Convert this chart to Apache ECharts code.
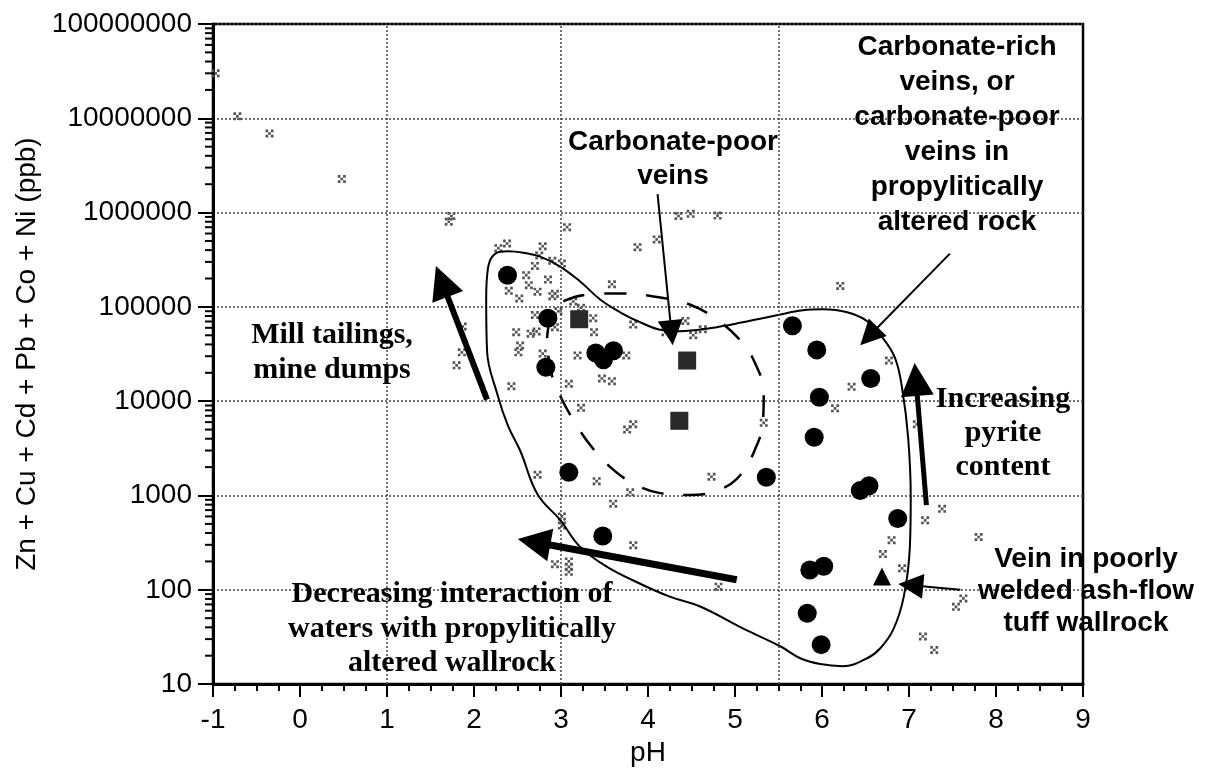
<!DOCTYPE html>
<html>
<head>
<meta charset="utf-8">
<script src="https://cdn.jsdelivr.net/npm/echarts/dist/echarts.min.js"></script>
<style>
html,body{margin:0;padding:0;background:#fff;}
#chart{width:1208px;height:772px;}
</style>
</head>
<body>
<div id="chart"></div>
<script>
// ---------- DATA ----------
const xTicks = [-1, 0, 1, 2, 3, 4, 5, 6, 7, 8, 9];
const yDecades = [10, 100, 1000, 10000, 100000, 1000000, 10000000, 100000000];
const minorMultipliers = [2, 3, 4, 5, 6, 7, 8, 9];
const vGridLines = [1, 3, 5.5];

// small gray symbols: [pH, metals ppb]
const grayPoints = [
  [-0.97, 3.0e7], [-0.72, 1.05e7], [-0.35, 6.9e6], [0.48, 2.27e6],
  [1.71, 8.0e5], [1.74, 9.2e5], [3.07, 7.0e5], [2.28, 4.2e5], [2.38, 4.7e5],
  [2.79, 4.4e5], [2.75, 3.5e5], [2.90, 3.08e5], [3.01, 2.88e5], [2.70, 2.72e5],
  [2.60, 2.17e5], [2.85, 1.95e5], [2.63, 1.70e5], [2.40, 1.48e5], [2.73, 1.45e5],
  [2.90, 1.30e5], [2.93, 1.38e5], [2.52, 1.23e5], [3.585, 1.74e5], [3.88, 4.3e5],
  [4.10, 5.2e5], [3.14, 1.14e5], [2.97, 9.0e4], [2.70, 8.2e4], [3.37, 7.6e4],
  [3.23, 9.8e4], [2.93, 6.1e4], [2.485, 5.4e4], [2.65, 5.2e4], [2.72, 5.5e4],
  [3.38, 5.4e4], [3.83, 6.5e4], [2.53, 3.9e4], [2.51, 3.3e4], [1.86, 3.3e4],
  [1.80, 2.4e4], [1.87, 6.2e4], [2.79, 3.2e4], [3.19, 3.06e4], [3.75, 3.06e4],
  [3.47, 1.74e4], [3.585, 1.63e4], [2.43, 1.44e4], [3.09, 1.53e4], [3.23, 8500],
  [4.35, 9.2e5], [4.49, 9.7e5], [4.80, 9.3e5], [6.21, 1.67e5], [4.43, 7.1e4],
  [4.27, 6.4e4], [4.63, 5.8e4], [4.52, 5.0e4], [4.20, 5.4e4], [6.59, 5.5e4],
  [6.77, 2.7e4], [6.34, 1.42e4], [6.15, 8400], [5.33, 5900], [3.76, 5000],
  [3.83, 5700], [3.41, 1420], [3.795, 1080], [4.73, 1580], [7.09, 5700],
  [3.60, 820], [2.73, 1660], [3.01, 600], [3.01, 480], [3.83, 297], [2.93, 187],
  [3.09, 200], [3.09, 175], [3.09, 155], [6.80, 336], [6.70, 239], [6.92, 169],
  [4.81, 108], [7.38, 722], [7.185, 545], [7.80, 363], [7.625, 81], [7.54, 66],
  [7.16, 32], [7.29, 23]
];

// large black circles
const circlePoints = [
  [2.385, 217000], [2.849, 75900], [2.826, 22900], [3.40, 32400], [3.603, 34300],
  [3.488, 27500], [5.66, 63000], [5.94, 35000], [6.56, 17400], [5.97, 11000],
  [5.91, 4150], [5.36, 1560], [6.44, 1130], [6.54, 1270], [3.09, 1760],
  [3.48, 372], [6.87, 570], [5.86, 162], [6.02, 178], [5.83, 56.5], [5.99, 26.2]
];

// black squares (carbonate-poor veins)
const squarePoints = [[3.209, 74000], [4.45, 27000], [4.36, 6200]];

// black triangle (vein in poorly welded tuff)
const trianglePoints = [[6.69, 138]];

// solid outline enclosing vein-drainage waters
const outlinePath = [
  [2.14, 123000], [2.16, 255000], [2.21, 341000], [2.30, 385000], [2.39, 390000],
  [2.57, 376000], [2.76, 341000], [2.99, 268000], [3.22, 186000], [3.45, 120000],
  [3.68, 87700], [3.91, 68700], [4.17, 56600], [4.37, 55300], [4.71, 59500],
  [5.09, 68700], [5.48, 81500], [5.78, 92000], [6.01, 94200], [6.29, 87700],
  [6.52, 70500], [6.70, 46700], [6.84, 28700], [6.92, 13900], [6.99, 4120],
  [7.02, 959], [7.01, 285], [6.94, 84.7], [6.82, 38], [6.67, 24], [6.52, 18.8],
  [6.24, 15.5], [5.98, 16.3], [5.75, 18.8], [5.52, 25.2], [5.09, 39], [4.60, 66.5],
  [4.25, 84.7], [3.91, 116], [3.53, 175], [3.22, 285], [2.99, 550], [2.73, 1030],
  [2.53, 3000], [2.39, 5500], [2.27, 11700], [2.15, 34000], [2.14, 123000]
];

// dashed oval (carbonate-poor veins)
const dashedOval = [
  [2.84, 46700], [2.90, 85500], [3.05, 117000], [3.34, 136000], [3.68, 139000],
  [4.14, 126000], [4.48, 106000], [4.77, 75800], [5.06, 44400], [5.23, 25400],
  [5.33, 12300], [5.32, 5930], [5.23, 3080], [5.06, 1640], [4.83, 1160],
  [4.48, 1010], [4.14, 1060], [3.85, 1310], [3.57, 1990], [3.34, 3390],
  [3.16, 5930], [2.99, 11400], [2.88, 21400], [2.84, 46700]
];

// arrows: [from, to(head centre)]
const thickArrows = [
  [[2.15, 10400], [1.63, 186000]],
  [[5.02, 128], [2.69, 321]],
  [[7.20, 790], [7.08, 17000]]
];
const thickArrowWidths = [6, 7, 5];
const thinArrows = [
  [[4.11, 1.57e6], [4.27, 53200]],
  [[7.47, 367000], [6.54, 48900]],
  [[7.59, 100], [7.02, 112]]
];

// annotation texts
const annoSans = [
  "Carbonate-poor\nveins",
  "Carbonate-rich\nveins, or\ncarbonate-poor\nveins in\npropylitically\naltered rock",
  "Vein in poorly\nwelded ash-flow\ntuff wallrock"
];
const annoSerif = [
  "Mill tailings,\nmine dumps",
  "Increasing\npyrite\ncontent",
  "Decreasing interaction of\nwaters with propylitically\naltered wallrock"
];
const xTitle = "pH";
const yTitle = "Zn + Cu + Cd + Pb + Co + Ni (ppb)";

// ---------- CHART ----------
const minorTickVals = [];
yDecades.slice(0, -1).forEach(d => minorMultipliers.forEach(m => minorTickVals.push([xTicks[0], d * m])));

const chart = echarts.init(document.getElementById('chart'), null, {renderer: 'canvas'});
const SANS = '"Liberation Sans", Arial, sans-serif';
const SERIF = '"Liberation Serif", "Times New Roman", serif';
const graySymbol = 'path://M0,0h1v1h-1zM2,0h1v1h-1zM1,1h1v1h-1zM0,2h1v1h-1zM2,2h1v1h-1z';

const option = {
  animation: false,
  backgroundColor: '#fff',
  grid: {left: 213, right: 125, top: 24, bottom: 84, show: true, borderColor: '#000', borderWidth: 2.5, backgroundColor: 'transparent'},
  xAxis: {
    type: 'value', min: xTicks[0], max: xTicks[xTicks.length - 1], interval: 1,
    name: xTitle, nameLocation: 'middle', nameGap: 36,
    nameTextStyle: {fontSize: 28, fontFamily: SANS, color: '#000'},
    axisLine: {show: true, onZero: false, lineStyle: {color: '#000', width: 3}},
    axisTick: {show: true, length: 13, lineStyle: {color: '#000', width: 2}},
    minorTick: {show: true, splitNumber: 4, length: 7, lineStyle: {color: '#000', width: 2}},
    axisLabel: {fontSize: 28, fontFamily: SANS, color: '#000', margin: 22},
    splitLine: {show: false}
  },
  yAxis: {
    type: 'log', logBase: 10, min: yDecades[0], max: yDecades[yDecades.length - 1], splitNumber: 7,
    name: yTitle, nameLocation: 'middle', nameGap: 172, nameRotate: 90,
    nameTextStyle: {fontSize: 28, fontFamily: SANS, color: '#000'},
    axisLine: {show: true, onZero: false, lineStyle: {color: '#000', width: 3}},
    axisTick: {show: true, length: 15, lineStyle: {color: '#000', width: 2}},
    axisLabel: {fontSize: 28, fontFamily: SANS, color: '#000', margin: 21,
      formatter: v => String(Math.round(v))},
    splitLine: {show: true, lineStyle: {color: '#444', width: 1.5, type: [2, 2]}}
  },
  graphic: [
    {type: 'text', x: 673, y: 125, z: 50, style: {text: annoSans[0], font: 'bold 28px ' + SANS, align: 'center', verticalAlign: 'top', lineHeight: 34, fill: '#000'}},
    {type: 'text', x: 957, y: 30, z: 50, style: {text: annoSans[1], font: 'bold 28px ' + SANS, align: 'center', verticalAlign: 'top', lineHeight: 35, fill: '#000'}},
    {type: 'text', x: 1086, y: 543, z: 50, style: {text: annoSans[2], font: 'bold 28px ' + SANS, align: 'center', verticalAlign: 'top', lineHeight: 32, fill: '#000'}},
    {type: 'text', x: 332, y: 318, z: 50, style: {text: annoSerif[0], font: 'bold 30px ' + SERIF, align: 'center', verticalAlign: 'top', lineHeight: 35, fill: '#000'}},
    {type: 'text', x: 1003, y: 382, z: 50, style: {text: annoSerif[1], font: 'bold 30px ' + SERIF, align: 'center', verticalAlign: 'top', lineHeight: 34, fill: '#000'}},
    {type: 'text', x: 452, y: 577, z: 50, style: {text: annoSerif[2], font: 'bold 30px ' + SERIF, align: 'center', verticalAlign: 'top', lineHeight: 34.5, fill: '#000'}}
  ],
  series: [
    {
      type: 'scatter', name: 'others', data: grayPoints, symbol: graySymbol, symbolSize: 8,
      itemStyle: {color: '#555', opacity: 1}, z: 3,
      markLine: {silent: true, symbol: 'none', label: {show: false}, animation: false,
        lineStyle: {color: '#444', width: 1.5, type: [2, 2]},
        data: vGridLines.map(v => ({xAxis: v}))}
    },
    {type: 'line', name: 'outline', data: outlinePath, smooth: 0.4, showSymbol: false, symbol: 'none',
      lineStyle: {color: '#000', width: 2}, z: 4, silent: true},
    {type: 'line', name: 'oval', data: dashedOval, smooth: 0.4, showSymbol: false, symbol: 'none',
      lineStyle: {color: '#000', width: 2.5, type: [22, 20]}, z: 4, silent: true},
    {type: 'scatter', name: 'circles', data: circlePoints, symbol: 'circle', symbolSize: 19,
      itemStyle: {color: '#000', opacity: 1}, z: 6},
    {type: 'scatter', name: 'squares', data: squarePoints, symbol: 'rect', symbolSize: 18,
      itemStyle: {color: '#2a2a2a', opacity: 1}, z: 6},
    {type: 'scatter', name: 'triangle', data: trianglePoints, symbol: 'triangle', symbolSize: 18,
      itemStyle: {color: '#000', opacity: 1}, z: 6},
    {type: 'lines', name: 'thickArrows', coordinateSystem: 'cartesian2d', z: 7,
      symbol: ['none', 'triangle'], symbolSize: [24, 33],
      data: thickArrows.map((c, i) => ({coords: c, lineStyle: {width: thickArrowWidths[i]}})),
      lineStyle: {color: '#000', opacity: 1, curveness: 0}},
    {type: 'lines', name: 'thinArrows', coordinateSystem: 'cartesian2d', z: 7,
      symbol: ['none', 'triangle'], symbolSize: [17, 25],
      data: thinArrows.map(c => ({coords: c})),
      lineStyle: {color: '#000', width: 2, opacity: 1, curveness: 0}},
    {type: 'custom', name: 'yMinorTicks', data: minorTickVals, clip: false, silent: true, z: 8,
      renderItem: (params, api) => {
        const p = api.coord([api.value(0), api.value(1)]);
        return {type: 'line', shape: {x1: p[0] - 8, y1: p[1], x2: p[0], y2: p[1]},
          style: {stroke: '#000', lineWidth: 2}};
      }}
  ]
};
chart.setOption(option);
</script>
</body>
</html>
